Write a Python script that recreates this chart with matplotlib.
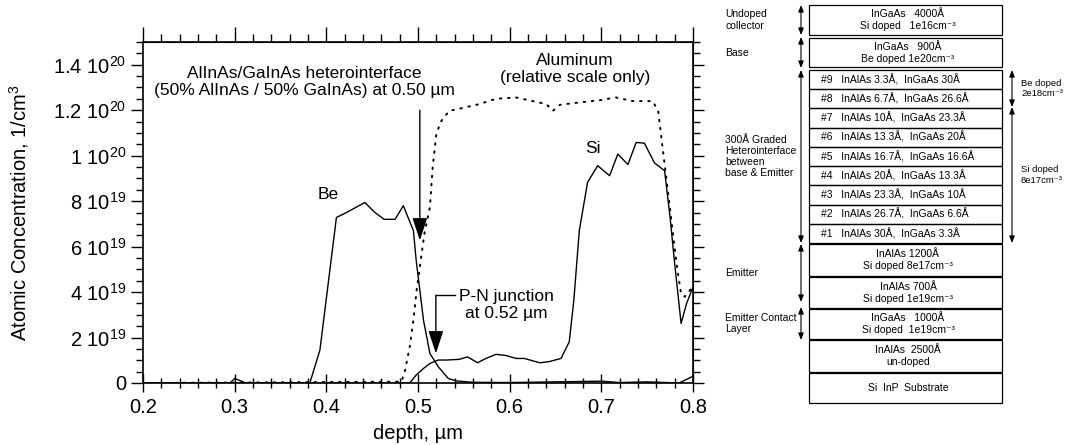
import numpy as np
import matplotlib
matplotlib.use('Agg')
import matplotlib.pyplot as plt
from matplotlib.ticker import MultipleLocator
from matplotlib.patches import Rectangle

plt.rcParams['font.family'] = ['Liberation Sans', 'DejaVu Sans']
plt.rcParams['mathtext.fontset'] = 'custom'
plt.rcParams['mathtext.rm'] = 'Liberation Sans'

# SIMS profile, concentrations in units of 1e19 cm^-3
be_depth = [0.20, 0.295, 0.300, 0.312, 0.382, 0.393, 0.411, 0.422, 0.442, 0.453, 0.463,
            0.475, 0.484, 0.495, 0.498, 0.502, 0.506, 0.513, 0.522, 0.533, 0.542, 0.56,
            0.60, 0.65, 0.70, 0.72, 0.75, 0.785, 0.80]
be_conc = [0, 0, 0.2, 0, 0, 1.45, 7.28, 7.5, 7.94, 7.5, 7.2,
           7.2, 7.8, 6.7, 5.4, 4.08, 2.76, 1.3, 0.72, 0.2, 0.09, 0.03,
           0.02, 0.05, 0.08, 0.02, 0.05, 0.0, 0.3]

si_depth = [0.20, 0.491, 0.498, 0.506, 0.513, 0.522, 0.531, 0.545, 0.554, 0.565, 0.574,
            0.585, 0.596, 0.607, 0.616, 0.633, 0.643, 0.656, 0.665, 0.670, 0.676, 0.685,
            0.696, 0.709, 0.718, 0.729, 0.738, 0.747, 0.758, 0.769, 0.775, 0.780, 0.787,
            0.793, 0.800]
si_conc = [0, 0, 0.35, 0.64, 0.86, 1.01, 1.01, 1.04, 1.15, 0.89, 1.08,
           1.26, 1.21, 1.08, 1.08, 0.89, 0.94, 1.08, 1.81, 3.64, 6.71, 8.83,
           9.56, 9.12, 10.07, 9.61, 10.58, 10.55, 9.68, 9.34, 7.29, 5.25, 2.62,
           3.5, 4.22]

al_depth = [0.20, 0.482, 0.486, 0.491, 0.495, 0.4985, 0.502, 0.507, 0.513, 0.516, 0.520,
            0.525, 0.534, 0.549, 0.567, 0.585, 0.595, 0.607, 0.625, 0.640, 0.647, 0.655,
            0.676, 0.698, 0.716, 0.734, 0.756, 0.762, 0.765, 0.769, 0.776, 0.782, 0.787,
            0.791, 0.798]
al_conc = [0, 0.06, 0.57, 1.6, 2.76, 4.08, 5.1, 6.57, 7.73, 9.49, 10.95,
           11.5, 11.97, 12.1, 12.27, 12.5, 12.53, 12.56, 12.4, 12.27, 11.97, 12.24,
           12.34, 12.44, 12.56, 12.4, 12.4, 11.97, 10.95, 9.64, 7.3, 5.25, 3.93,
           3.79, 4.15]

yticks = [0, 2e19, 4e19, 6e19, 8e19, 1e20, 1.2e20, 1.4e20]
ytick_labels = ['0', r'2 10$^{\mathrm{19}}$', r'4 10$^{\mathrm{19}}$', r'6 10$^{\mathrm{19}}$',
                r'8 10$^{\mathrm{19}}$', r'1 10$^{\mathrm{20}}$', r'1.2 10$^{\mathrm{20}}$',
                r'1.4 10$^{\mathrm{20}}$']
xticks = [0.2, 0.3, 0.4, 0.5, 0.6, 0.7, 0.8]

# layer stack (right panel)
thick_layers = [('InGaAs   4000Å\nSi doped   1e16cm⁻³', 5, 35),
                ('InGaAs   900Å\nBe doped 1e20cm⁻³', 38, 67),
                ('InAlAs 1200Å\nSi doped 8e17cm⁻³', 244, 276),
                ('InAlAs 700Å\nSi doped 1e19cm⁻³', 277, 308),
                ('InGaAs   1000Å\nSi doped  1e19cm⁻³', 309, 339),
                ('InAlAs  2500Å\nun-doped', 340, 372),
                ('Si  InP  Substrate', 373, 403)]
graded_layers = ['#9   InAlAs 3.3Å,  InGaAs 30Å',
                 '#8   InAlAs 6.7Å,  InGaAs 26.6Å',
                 '#7   InAlAs 10Å,  InGaAs 23.3Å',
                 '#6   InAlAs 13.3Å,  InGaAs 20Å',
                 '#5   InAlAs 16.7Å,  InGaAs 16.6Å',
                 '#4   InAlAs 20Å,  InGaAs 13.3Å',
                 '#3   InAlAs 23.3Å,  InGaAs 10Å',
                 '#2   InAlAs 26.7Å,  InGaAs 6.6Å',
                 '#1   InAlAs 30Å,  InGaAs 3.3Å']
left_labels = [('Undoped\ncollector', 5, 35), ('Base', 37, 68),
               ('300Å Graded\nHeterointerface\nbetween\nbase & Emitter', 70, 243),
               ('Emitter', 244, 302), ('Emitter Contact\nLayer', 307, 340)]
right_labels = [('Be doped\n2e18cm⁻³', 70, 107), ('Si doped\n8e17cm⁻³', 107, 243)]

fig = plt.figure(figsize=(10.69, 4.45), dpi=100)
ax = fig.add_axes([143/1069, 62/445, 550/1069, 341/445])

e19 = 1e19
ax.plot(be_depth, np.array(be_conc) * e19, color='black', lw=1.0)
ax.plot(si_depth, np.array(si_conc) * e19, color='black', lw=1.0)
ax.plot(al_depth, np.array(al_conc) * e19, color='black', lw=1.4, linestyle=(0, (0.8, 3.4)),
        dash_capstyle='round')

ax.set_xlim(0.2, 0.8)
ax.set_ylim(0, 1.5e20)
ax.set_xticks(xticks)
ax.set_xticklabels(['%.1f' % v for v in xticks])
ax.set_yticks(yticks)
ax.set_yticklabels(ytick_labels)
ax.xaxis.set_minor_locator(MultipleLocator(0.02))
ax.yaxis.set_minor_locator(MultipleLocator(0.5e19))
ax.tick_params(axis='x', which='both', direction='inout', labelsize=14.5, pad=4)
ax.tick_params(axis='x', which='major', length=13, width=1)
ax.tick_params(axis='x', which='minor', length=7, width=1)
ax.tick_params(axis='y', which='both', direction='out', labelsize=14.5, pad=3)
ax.tick_params(axis='y', which='major', length=9, width=1)
ax.tick_params(axis='y', which='minor', length=5, width=1)
for s in ax.spines.values():
    s.set_linewidth(1.2)

secx = ax.secondary_xaxis('top')
secx.set_xticks(xticks)
secx.set_xticklabels([])
secx.xaxis.set_minor_locator(MultipleLocator(0.02))
secx.tick_params(which='major', direction='out', length=11, width=1)
secx.tick_params(which='minor', direction='out', length=6, width=1)
secy = ax.secondary_yaxis('right')
secy.set_yticks(yticks)
secy.set_yticklabels([])
secy.yaxis.set_minor_locator(MultipleLocator(0.5e19))
secy.tick_params(which='major', direction='out', length=8, width=1)
secy.tick_params(which='minor', direction='out', length=5, width=1)

ax.set_xlabel('depth, µm', fontsize=14.5, labelpad=5)
ax.set_ylabel('Atomic Concentration, 1/cm$^3$', fontsize=14.5, labelpad=16)

ax.text(0.402, 8.3e19, 'Be', fontsize=12.5, ha='center', va='center')
ax.text(0.691, 10.3e19, 'Si', fontsize=12.5, ha='center', va='center')
ax.text(0.376, 13.25e19, 'AlInAs/GaInAs heterointerface\n(50% AlInAs / 50% GaInAs) at 0.50 µm',
        fontsize=12.5, ha='center', va='center', linespacing=1.15)
ax.text(0.671, 13.8e19, 'Aluminum\n(relative scale only)', fontsize=12.5,
        ha='center', va='center', linespacing=1.15)
ax.text(0.596, 3.42e19, 'P-N junction\nat 0.52 µm', fontsize=12.5,
        ha='center', va='center', linespacing=1.15)

arrow_kw = dict(arrowstyle='-|>,head_length=1.0,head_width=0.33', color='black',
                lw=1.0, shrinkA=0, shrinkB=0, mutation_scale=14)
ax.annotate('', xy=(0.502, 6.27e19), xytext=(0.502, 12.0e19), arrowprops=arrow_kw)
ax.plot([0.5405, 0.5195], [3.86e19, 3.86e19], color='black', lw=1.0)
ax.annotate('', xy=(0.5195, 1.3e19), xytext=(0.5195, 3.86e19), arrowprops=arrow_kw)

# right panel in pixel coordinates
ax2 = fig.add_axes([0, 0, 1, 1])
ax2.set_xlim(0, 1069)
ax2.set_ylim(445, 0)
ax2.axis('off')

bx0, bx1 = 809, 1002
for label, top, bot in thick_layers:
    ax2.add_patch(Rectangle((bx0, top), bx1 - bx0, bot - top, fill=False, lw=0.9, ec='black'))
    ax2.text(908, (top + bot) / 2, label, fontsize=7.5, ha='center', va='center',
             linespacing=1.25)
g_top, g_bot = 70, 243
row_h = (g_bot - g_top) / len(graded_layers)
for i, label in enumerate(graded_layers):
    top = g_top + i * row_h
    ax2.add_patch(Rectangle((bx0, top), bx1 - bx0, row_h, fill=False, lw=0.9, ec='black'))
    ax2.text(821, top + row_h / 2, label, fontsize=7.5, ha='left', va='center')

small_arrow = dict(arrowstyle='<|-|>,head_length=0.5,head_width=0.2', color='black',
                   lw=0.8, shrinkA=0, shrinkB=0, mutation_scale=8)
for label, top, bot in left_labels:
    ax2.annotate('', xy=(801, top), xytext=(801, bot), arrowprops=small_arrow)
    ax2.text(725, (top + bot) / 2, label, fontsize=7.5, ha='left', va='center', linespacing=1.15)
for label, top, bot in right_labels:
    ax2.annotate('', xy=(1012, top), xytext=(1012, bot), arrowprops=small_arrow)
    ax2.text(1021, (top + bot) / 2, label, fontsize=6.8, ha='left', va='center', linespacing=1.2)

fig.savefig('out.png', dpi=100)
